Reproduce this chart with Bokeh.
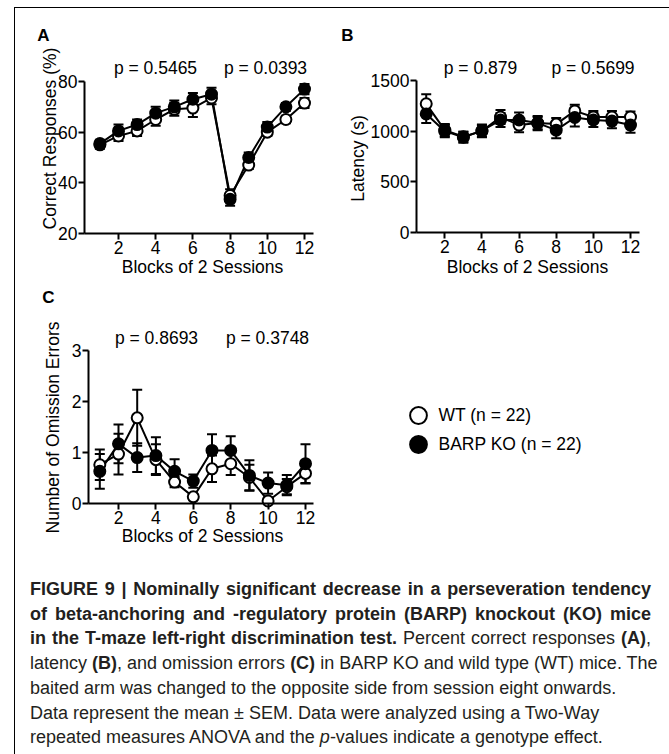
from math import pi

from bokeh.plotting import figure
from bokeh.models import (ColumnDataSource, Whisker, TeeHead, FixedTicker, Label,
                          Legend, LegendItem, Div, Spacer)
from bokeh.layouts import row, column
from bokeh.embed import file_html
from bokeh.resources import INLINE

# ---------------- data ----------------
blocks = [1, 2, 3, 4, 5, 6, 7, 8, 9, 10, 11, 12]
x_ticks = [2, 4, 6, 8, 10, 12]
x_title = "Blocks of 2 Sessions"
group_labels = ["WT (n = 22)", "BARP KO (n = 22)"]

# Panel A: correct responses (%)
correct_wt = [55, 58.5, 60.5, 65, 69, 69.5, 73.5, 35, 47, 60, 65, 71.5]
correct_wt_sem = [1.5, 2, 2, 2.5, 2.5, 3.5, 2.5, 2.5, 1.5, 1.5, 1.5, 2]
correct_ko = [55.5, 60.5, 63, 67.5, 70, 73, 75, 33.5, 50, 62, 70, 77]
correct_ko_sem = [1.5, 2.5, 2, 2.5, 2.5, 2.5, 2.5, 2.5, 2, 2, 1.5, 2]
correct_ticks = [20, 40, 60, 80]
correct_title = "Correct Responses (%)"
correct_p = ["p = 0.5465", "p = 0.0393"]

# Panel B: latency (s)
latency_wt = [1270, 1010, 945, 1000, 1140, 1060, 1080, 1070, 1200, 1140, 1140, 1140]
latency_wt_sem = [95, 60, 50, 60, 70, 70, 60, 60, 60, 60, 60, 55]
latency_ko = [1170, 1000, 940, 1005, 1110, 1110, 1080, 1010, 1135, 1110, 1100, 1060]
latency_ko_sem = [90, 60, 55, 60, 70, 75, 70, 80, 90, 70, 70, 75]
latency_ticks = [0, 500, 1000, 1500]
latency_title = "Latency (s)"
latency_p = ["p = 0.879", "p = 0.5699"]

# Panel C: omission errors
omission_wt = [0.76, 0.97, 1.68, 0.86, 0.42, 0.13, 0.68, 0.78, 0.51, 0.05, 0.33, 0.59]
omission_wt_sem = [0.3, 0.4, 0.55, 0.3, 0.1, 0.05, 0.26, 0.22, 0.25, 0.05, 0.15, 0.2]
omission_ko = [0.63, 1.17, 0.90, 0.94, 0.63, 0.44, 1.04, 1.04, 0.55, 0.40, 0.36, 0.78]
omission_ko_sem = [0.34, 0.38, 0.28, 0.36, 0.24, 0.13, 0.32, 0.28, 0.3, 0.21, 0.2, 0.38]
omission_ticks = [0, 1, 2, 3]
omission_title = "Number of Omission Errors"
omission_p = ["p = 0.8693", "p = 0.3748"]

# ---------------- style / layout ----------------
FONT = "Liberation Sans"
INK = "#000000"
FS = "17.5px"


class Panel:
    """Maps page pixels to data values for one panel (layout helper)."""

    def __init__(self, xa, ya, box):
        self.xa, self.ya, self.box = xa, ya, box   # box = (left, top, right, bottom) page px

    @staticmethod
    def _map(a, px):
        v0, p0, v1, p1 = a
        return v0 + (px - p0) * (v1 - v0) / (p1 - p0)

    def x(self, px):
        return self._map(self.xa, px)

    def y(self, py):
        return self._map(self.ya, py)


def make_panel(pan, y_ticks, axis_left_px, axis_right_px):
    left, top, right, bottom = pan.box
    p = figure(width=right - left, height=bottom - top,
               x_range=(pan.x(left), pan.x(right)), y_range=(pan.y(bottom), pan.y(top)),
               output_backend="svg", toolbar_location=None, title=None,
               min_border=0, min_border_left=0, min_border_right=0,
               min_border_top=0, min_border_bottom=0)
    p.grid.visible = False
    p.outline_line_color = None
    p.background_fill_color = "white"
    p.border_fill_color = "white"
    x0, x1 = pan.x(axis_left_px), pan.x(axis_right_px)
    p.xaxis.ticker = FixedTicker(ticks=x_ticks)
    p.yaxis.ticker = FixedTicker(ticks=y_ticks)
    p.xaxis.fixed_location = y_ticks[0]
    p.yaxis.fixed_location = x0
    p.xaxis.bounds = (x0, x1)
    p.yaxis.bounds = (y_ticks[0], y_ticks[-1])
    for ax in p.axis:
        ax.axis_line_width = 2
        ax.axis_line_color = INK
        ax.major_tick_line_width = 2
        ax.major_tick_line_color = INK
        ax.major_tick_out = 6
        ax.major_tick_in = 0
        ax.minor_tick_line_color = None
        ax.major_label_text_font = FONT
        ax.major_label_text_font_size = FS
        ax.major_label_text_color = INK
    p.xaxis.major_label_standoff = 1
    p.yaxis.major_label_standoff = 1
    return p


def add_series(p, wt, wt_sem, ko, ko_sem):
    srcs = []
    for m, s in ((wt, wt_sem), (ko, ko_sem)):
        srcs.append(ColumnDataSource(dict(
            x=blocks, y=m,
            lo=[a - b for a, b in zip(m, s)],
            hi=[a + b for a, b in zip(m, s)])))
    for src in srcs:
        p.add_layout(Whisker(source=src, base="x", lower="lo", upper="hi",
                             level="underlay", line_width=2, line_color=INK,
                             upper_head=TeeHead(size=10, line_width=2, line_color=INK),
                             lower_head=TeeHead(size=10, line_width=2, line_color=INK)))
    for src in srcs:
        p.line("x", "y", source=src, line_width=2, line_color=INK)
    r_wt = p.scatter("x", "y", source=srcs[0], marker="circle", size=11,
                     fill_color="white", line_color=INK, line_width=2)
    r_ko = p.scatter("x", "y", source=srcs[1], marker="circle", size=11,
                     fill_color=INK, line_color=INK, line_width=2)
    return r_wt, r_ko


def add_text(p, pan, px, py, text, bold=False, size=FS, angle=0.0):
    p.add_layout(Label(x=pan.x(px), y=pan.y(py), text=text, text_font=FONT,
                       text_font_size=size,
                       text_font_style="bold" if bold else "normal",
                       text_color=INK, text_align="center",
                       text_baseline="middle", angle=angle))


def add_legend_entry(p, pan, renderer, label, cx, cy):
    # one legend per entry so that the rows sit at the reference spacing
    glyph = 42
    p.add_layout(Legend(items=[LegendItem(label=label, renderers=[renderer])],
                        location=(cx - glyph / 2 - pan.box[0], pan.box[3] - (cy + glyph / 2)),
                        glyph_width=glyph, glyph_height=glyph, spacing=0,
                        label_standoff=0, padding=0, margin=0,
                        border_line_color=None, background_fill_alpha=0,
                        label_text_font=FONT, label_text_font_size=FS,
                        label_text_color=INK))


# page layout: box content starts at (15, 8)
PA = Panel((2, 118, 12, 304), (20, 233, 80, 81), (15, 8, 335, 285))
PB = Panel((2, 444.3, 12, 630), (0, 232, 1500, 80), (335, 8, 668, 285))
PC = Panel((2, 118, 12, 305), (0, 503, 3, 350), (15, 285, 668, 552))

# ---------------- panel A ----------------
pa = make_panel(PA, correct_ticks, 84, 313)
add_series(pa, correct_wt, correct_wt_sem, correct_ko, correct_ko_sem)
add_text(pa, PA, 43, 35, "A", bold=True, size="17px")
add_text(pa, PA, 155, 67, correct_p[0])
add_text(pa, PA, 265, 67, correct_p[1])
add_text(pa, PA, 49, 138, correct_title, angle=pi / 2)
add_text(pa, PA, 202, 266, x_title)

# ---------------- panel B ----------------
pb = make_panel(PB, latency_ticks, 416, 639)
add_series(pb, latency_wt, latency_wt_sem, latency_ko, latency_ko_sem)
add_text(pb, PB, 347, 35, "B", bold=True, size="17px")
add_text(pb, PB, 480, 67, latency_p[0])
add_text(pb, PB, 592.5, 67, latency_p[1])
add_text(pb, PB, 357, 158, latency_title, angle=pi / 2)
add_text(pb, PB, 527, 266, x_title)

# ---------------- panel C + legend ----------------
pc = make_panel(PC, omission_ticks, 88, 313)
r_wt, r_ko = add_series(pc, omission_wt, omission_wt_sem, omission_ko, omission_ko_sem)
add_text(pc, PC, 48, 297, "C", bold=True, size="17px")
add_text(pc, PC, 156, 337, omission_p[0])
add_text(pc, PC, 267, 337, omission_p[1])
add_text(pc, PC, 52, 427, omission_title, angle=pi / 2)
add_text(pc, PC, 202, 535, x_title)
add_legend_entry(pc, PC, r_wt, group_labels[0], 417.5, 415)
add_legend_entry(pc, PC, r_ko, group_labels[1], 417.5, 444)

# ---------------- caption ----------------
J = "display:block;width:621px;white-space:nowrap;text-align:justify;text-align-last:justify;"
L = "display:block;white-space:nowrap;"
caption_html = (
    "<div style=\"font-family:'Liberation Sans',Arial,sans-serif;font-size:18px;"
    "line-height:24.7px;color:#231f20;padding:20px 0 0 10px;\">"
    f"<span style='{J}'><b>FIGURE 9 | Nominally significant decrease in a perseveration tendency</b></span>"
    f"<span style='{J}'><b>of beta-anchoring and -regulatory protein (BARP) knockout (KO) mice</b></span>"
    f"<span style='{J}'><b>in the T-maze left-right discrimination test.</b> Percent correct responses <b>(A)</b>,</span>"
    f"<span style='{J}'>latency <b>(B)</b>, and omission errors <b>(C)</b> in BARP KO and wild type (WT) mice. The</span>"
    f"<span style='{L}'>baited arm was changed to the opposite side from session eight onwards.</span>"
    f"<span style='{L}'>Data represent the mean \u00b1 SEM. Data were analyzed using a Two-Way</span>"
    f"<span style='{L}'>repeated measures ANOVA and the <i>p</i>-values indicate a genotype effect.</span>"
    "</div>"
)
caption = Div(text=caption_html, width=653, height=201)

box = column(row(pa, pb, spacing=0), pc, caption, spacing=0,
             styles={"border-left": "1px solid #000", "border-top": "1px solid #000",
                     "border-right": "1px solid #000"})
page = column(Spacer(width=669, height=7),
              row(Spacer(width=14, height=745), box, spacing=0),
              spacing=0)

open("out.html", "w").write(file_html(page, INLINE))
